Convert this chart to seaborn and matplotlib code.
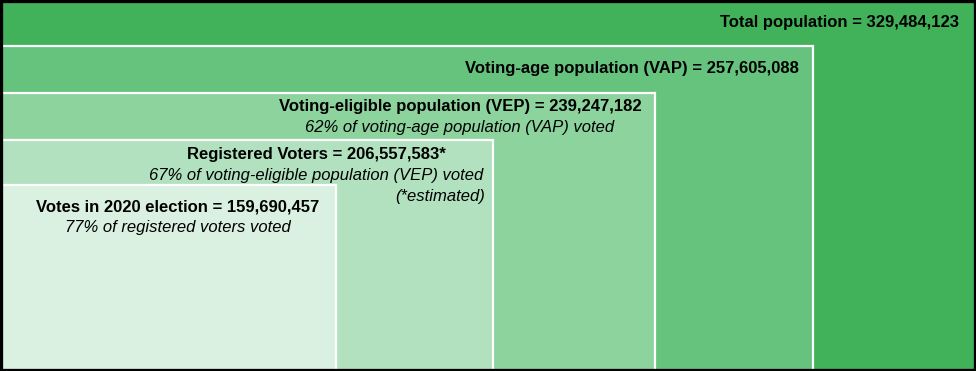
import matplotlib
matplotlib.use("Agg")
import matplotlib.pyplot as plt
import seaborn as sns
from matplotlib.patches import Rectangle

sns.set_theme(style="white")
plt.rcParams['font.family'] = ['Liberation Sans', 'DejaVu Sans']

# ---- data ----
categories = ["Total population", "Voting-age population (VAP)",
              "Voting-eligible population (VEP)", "Registered Voters",
              "Votes in 2020 election"]
values = ["329,484,123", "257,605,088", "239,247,182", "206,557,583*", "159,690,457"]
notes = [None, None, "62% of voting-age population (VAP) voted",
         "67% of voting-eligible population (VEP) voted", "77% of registered voters voted"]
extra = [None, None, None, "(*estimated)", None]

# ---- layout (pixel units, figure 976x371) ----
W, H = 976, 371
right_edges = [980, 813, 655, 493, 336]
top_edges = [-5, 46, 93, 140, 185]
colors = ["#41b25a", "#66c37e", "#8dd39e", "#b2e1c0", "#daf0e0"]
text_cx = [839, 632, 460, 316, 178]
text_y = [22, 69, 107, 155, 207]
line_gap = 20.5

fig = plt.figure(figsize=(W / 100, H / 100), dpi=100)
ax = fig.add_axes([0, 0, 1, 1])
ax.set_xlim(0, W)
ax.set_ylim(H, 0)
ax.axis("off")

for i, (r, t, c) in enumerate(zip(right_edges, top_edges, colors)):
    ec = "none" if i == 0 else "white"
    ax.add_patch(Rectangle((-10, t), r + 10, H + 20 - t, facecolor=c,
                           edgecolor=ec, linewidth=1.6, zorder=1 + i))

# black frame
ax.add_patch(Rectangle((0, 0), W, H, fill=False, edgecolor="black",
                       linewidth=3.8, zorder=20, clip_on=False))

fs = 12
for i in range(len(categories)):
    z = 10
    ax.text(text_cx[i], text_y[i], f"{categories[i]} = {values[i]}", ha="center", va="center",
            fontsize=fs, fontweight="bold", color="black", zorder=z)
    if notes[i]:
        ax.text(text_cx[i], text_y[i] + line_gap, notes[i], ha="center", va="center",
                fontsize=fs, fontstyle="italic", color="black", zorder=z)
    if extra[i]:
        ax.text(right_edges[i] - 8, text_y[i] + 2 * line_gap, extra[i], ha="right", va="center",
                fontsize=fs, fontstyle="italic", color="black", zorder=z)

fig.savefig("out.png", dpi=100)
